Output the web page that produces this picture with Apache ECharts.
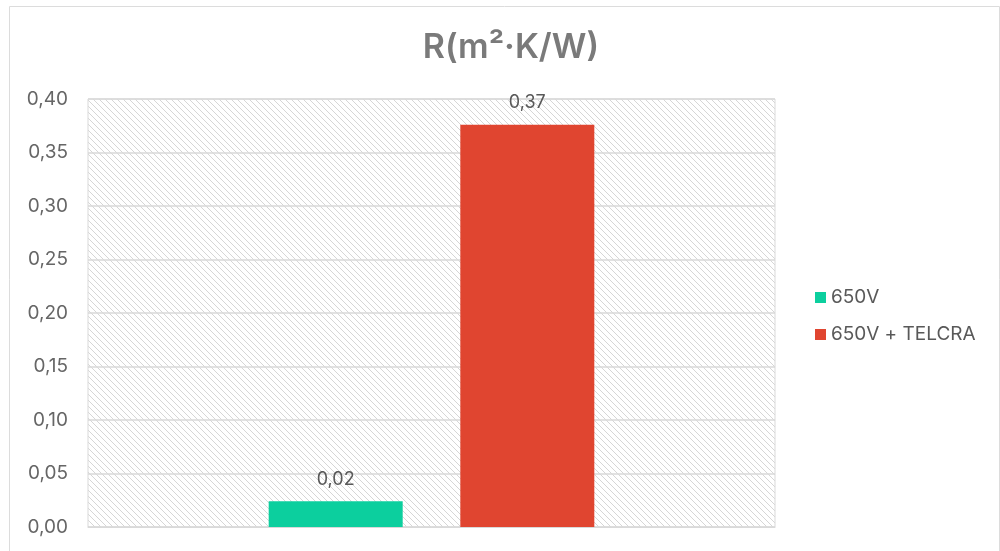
<!DOCTYPE html>
<html>
<head>
<meta charset="utf-8">
<script src="https://cdn.jsdelivr.net/npm/echarts@6/dist/echarts.min.js"></script>
<style>
html,body{margin:0;padding:0;background:#fff;}
#c{width:1000px;height:551px;}
</style>
</head>
<body>
<div id="c"></div>
<script>
const categories = [''];
const seriesNames = ['650V', '650V + TELCRA'];
const values650V = [0.024];
const valuesTelcra = [0.376];
const seriesColors = ['#0ccf9e', '#e04530'];
const yTicks = { min: 0, max: 0.4, interval: 0.05 };

function hatch() {
  const c = document.createElement('canvas');
  c.width = 6; c.height = 6;
  const g = c.getContext('2d');
  g.fillStyle = '#ffffff';
  g.fillRect(0, 0, 6, 6);
  g.strokeStyle = '#d6d6d6';
  g.lineWidth = 1;
  g.beginPath();
  g.moveTo(-1, -1); g.lineTo(7, 7);
  g.moveTo(-1, 5); g.lineTo(1, 7);
  g.moveTo(5, -1); g.lineTo(7, 1);
  g.stroke();
  return c;
}

const fmt = v => (Math.floor(v * 100 + 1e-9) / 100).toFixed(2).replace('.', ',');
const FONT = 'Inter';

const chart = echarts.init(document.getElementById('c'), null, { renderer: 'canvas' });
chart.setOption({
  animation: false,
  backgroundColor: '#ffffff',
  title: {
    text: 'R(m²·K/W)',
    left: 506, top: 26, textAlign: 'center',
    textStyle: { fontFamily: FONT, fontSize: 34, fontWeight: 600, color: '#7a7a7a' }
  },
  graphic: [{
    type: 'rect', left: 7, top: 4, silent: true, z: -1,
    shape: { width: 990, height: 546 },
    style: { fill: 'none', stroke: '#dcdcdc', lineWidth: 1 }
  }],
  grid: {
    left: 88, top: 99, width: 687, height: 428,
    show: true,
    backgroundColor: { image: hatch(), repeat: 'repeat' },
    borderColor: '#d9d9d9', borderWidth: 1
  },
  legend: {
    orient: 'vertical', left: 810, top: 283,
    itemWidth: 11, itemHeight: 11, itemGap: 18,
    icon: 'rect',
    textStyle: { fontFamily: FONT, fontSize: 19, color: '#595959' },
    data: seriesNames
  },
  xAxis: {
    type: 'category', data: categories,
    axisLine: { show: true, lineStyle: { color: '#d9d9d9' } },
    axisTick: { show: false }, axisLabel: { show: false }
  },
  yAxis: {
    type: 'value', min: yTicks.min, max: yTicks.max, interval: yTicks.interval,
    axisLine: { show: false }, axisTick: { show: false },
    axisLabel: {
      margin: 20, fontFamily: FONT, fontSize: 19, color: '#666',
      formatter: v => v.toFixed(2).replace('.', ',')
    },
    splitLine: { lineStyle: { color: '#d9d9d9', width: 1.5 } }
  },
  series: [
    {
      name: seriesNames[0], type: 'bar', data: values650V,
      barWidth: 134, barGap: '43%',
      itemStyle: { color: seriesColors[0] },
      label: { show: true, position: 'top', distance: 13, fontFamily: FONT, fontSize: 18, color: '#595959', formatter: p => fmt(p.value) }
    },
    {
      name: seriesNames[1], type: 'bar', data: valuesTelcra,
      barWidth: 134, barGap: '43%',
      itemStyle: { color: seriesColors[1] },
      label: { show: true, position: 'top', distance: 13, fontFamily: FONT, fontSize: 18, color: '#595959', formatter: p => fmt(p.value) }
    }
  ]
});
</script>
</body>
</html>
